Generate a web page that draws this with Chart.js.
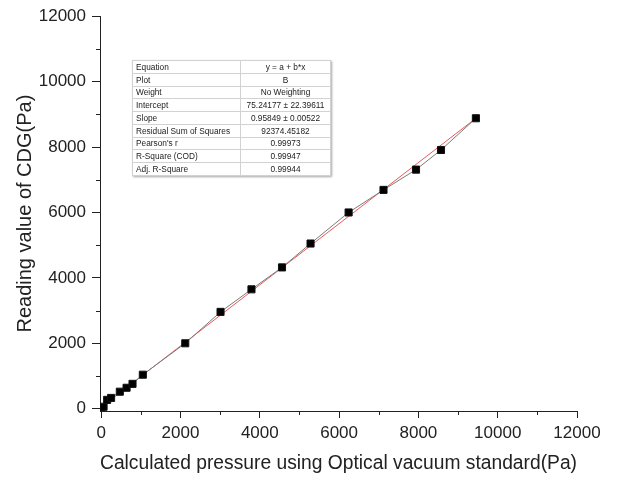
<!DOCTYPE html>
<html lang="en">
<head>
<meta charset="UTF-8">
<title>CDG reading vs optical vacuum standard</title>
<script src="https://cdn.jsdelivr.net/npm/chart.js"></script>
<style>
body { margin: 0; background: #fff; font-family: 'Liberation Sans', Arial, sans-serif; }
.wrap { position: relative; width: 638px; height: 480px; }
.fit-table {
  position: absolute; left: 132px; top: 60px; width: 198px; height: 116px;
  border-collapse: collapse; table-layout: fixed; background: #fff;
  font-size: 8.3px; color: #222; box-shadow: 1px 1px 2px rgba(0,0,0,0.35);
}
.fit-table td { border: 1px solid #d2d2d2; padding: 0 3px; line-height: 1; white-space: nowrap; overflow: hidden; }
.fit-table td.val { text-align: center; }
</style>
</head>
<body>
<div class="wrap">
  <canvas id="chart" width="638" height="480"></canvas>
  <table class="fit-table" id="fitTable">
    <colgroup><col style="width:108px"><col style="width:90px"></colgroup>
  </table>
</div>
<script>
// measured points: calculated pressure (x) and CDG reading (y), Pa
const pressureRef = [0, 60, 150, 250, 470, 640, 790, 1050, 2120, 3010, 3790, 4560, 5280, 6240, 7120, 7940, 8570, 9450];
const cdgReading  = [0, 60, 270, 330, 520, 640, 760, 1040, 2000, 2960, 3650, 4320, 5050, 6000, 6690, 7310, 7910, 8880];

// linear fit line end points
const fitX = [0, 9450];
const fitY = [50, 8880];

const xTicks = [0, 2000, 4000, 6000, 8000, 10000, 12000];
const yTicks = [0, 2000, 4000, 6000, 8000, 10000, 12000];
const xMinor = [1000, 3000, 5000, 7000, 9000, 11000];
const yMinor = [1000, 3000, 5000, 7000, 9000, 11000];

const fitLabels = ['Equation', 'Plot', 'Weight', 'Intercept', 'Slope', 'Residual Sum of Squares', "Pearson's r", 'R-Square (COD)', 'Adj. R-Square'];
const fitValues = ['y = a + b*x', 'B', 'No Weighting', '75.24177 \u00b1 22.39611', '0.95849 \u00b1 0.00522', '92374.45182', '0.99973', '0.99947', '0.99944'];

// fill the results table
const table = document.getElementById('fitTable');
fitLabels.forEach((name, i) => {
  const tr = document.createElement('tr');
  tr.innerHTML = '<td>' + name + '</td><td class="val">' + fitValues[i] + '</td>';
  table.appendChild(tr);
});

const ink = '#222';
const fontFamily = "'Liberation Sans', Arial, sans-serif";

// short minor ticks between the labelled ones
const minorTicks = {
  id: 'minorTicks',
  afterDraw(chart) {
    const ctx = chart.ctx, xs = chart.scales.x, ys = chart.scales.y;
    ctx.save();
    ctx.strokeStyle = ink;
    ctx.lineWidth = 1;
    ctx.beginPath();
    xMinor.forEach(v => {
      const px = Math.round(xs.getPixelForValue(v)) + 0.5;
      ctx.moveTo(px, xs.top);
      ctx.lineTo(px, xs.top + 4);
    });
    yMinor.forEach(v => {
      const py = Math.round(ys.getPixelForValue(v)) + 0.5;
      ctx.moveTo(ys.right, py);
      ctx.lineTo(ys.right - 4, py);
    });
    ctx.stroke();
    ctx.restore();
  }
};

new Chart(document.getElementById('chart'), {
  type: 'scatter',
  data: {
    datasets: [{
      label: 'B',
      data: pressureRef.map((x, i) => ({ x: x, y: cdgReading[i] })),
      showLine: true,
      borderColor: '#7a7a7a',
      borderWidth: 1,
      pointStyle: 'rect',
      pointRadius: 5,
      pointBackgroundColor: '#000',
      pointBorderColor: '#111',
      pointBorderWidth: 1,
      order: 0
    }, {
      label: 'Linear Fit',
      data: fitX.map((x, i) => ({ x: x, y: fitY[i] })),
      showLine: true,
      borderColor: '#e85a5a',
      borderWidth: 1,
      pointRadius: 0,
      order: 1
    }]
  },
  options: {
    responsive: false,
    animation: false,
    layout: { padding: { top: 14, right: 61, left: 0, bottom: 0 } },
    plugins: {
      legend: { display: false },
      tooltip: { enabled: false }
    },
    scales: {
      x: {
        type: 'linear',
        min: -30,
        max: 12000,
        afterBuildTicks: s => { s.ticks = xTicks.map(v => ({ value: v })); },
        afterFit: s => { s.height = 69; },
        ticks: { color: ink, font: { family: fontFamily, size: 17 }, padding: 5, maxRotation: 0, autoSkip: false, callback: v => String(v) },
        grid: { drawOnChartArea: false, drawTicks: true, tickLength: 7, tickColor: ink },
        border: { color: ink, width: 1 },
        title: {
          display: true,
          text: 'Calculated pressure using Optical vacuum standard(Pa)',
          color: ink,
          font: { family: fontFamily, size: 20 },
          padding: { top: 0, bottom: 5 }
        }
      },
      y: {
        type: 'linear',
        min: -70,
        max: 12000,
        afterBuildTicks: s => { s.ticks = yTicks.map(v => ({ value: v })); },
        afterFit: s => { s.width = 100; },
        ticks: { color: ink, font: { family: fontFamily, size: 17 }, padding: 6, autoSkip: false, callback: v => String(v) },
        grid: { drawOnChartArea: false, drawTicks: true, tickLength: 8, tickColor: ink },
        border: { color: ink, width: 1 },
        title: {
          display: true,
          text: 'Reading value of CDG(Pa)',
          color: ink,
          font: { family: fontFamily, size: 20 },
          padding: { top: 13, bottom: 0 }
        }
      }
    }
  },
  plugins: [minorTicks]
});
</script>
</body>
</html>
